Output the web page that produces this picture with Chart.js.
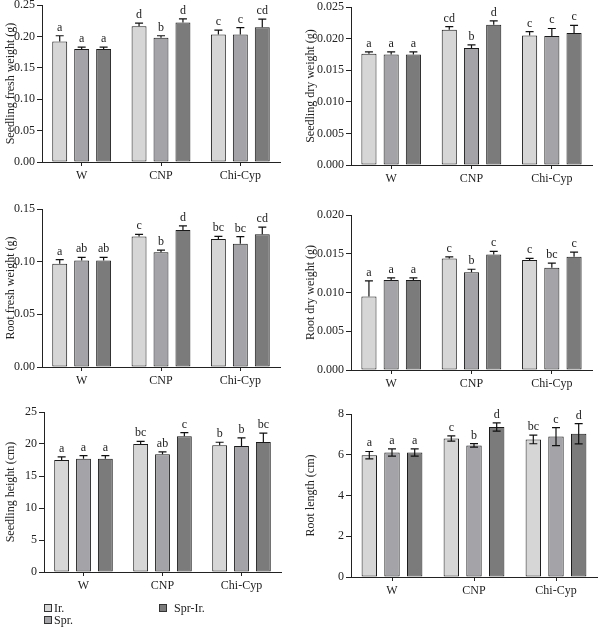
<!DOCTYPE html>
<html>
<head>
<meta charset="utf-8">
<script src="https://cdn.jsdelivr.net/npm/chart.js@4"></script>
<style>
  body { margin: 0; background: #fff; width: 600px; height: 627px; position: relative; overflow: hidden; font-family: "Liberation Serif", serif; }
  canvas { position: absolute; }
  .leg { position: absolute; font-size: 12px; color: #222; line-height: 12px; }
  .sw { position: absolute; width: 6px; height: 6px; border: 1px solid #333; }
</style>
</head>
<body>
<canvas id="c1"></canvas>
<canvas id="c2"></canvas>
<canvas id="c3"></canvas>
<canvas id="c4"></canvas>
<canvas id="c5"></canvas>
<canvas id="c6"></canvas>

<div class="sw" style="left:44px;top:604px;background:#d6d6d6"></div>
<div class="leg" style="left:54px;top:602px">Ir.</div>
<div class="sw" style="left:44px;top:616px;background:#a4a4a8"></div>
<div class="leg" style="left:54px;top:614px">Spr.</div>
<div class="sw" style="left:159px;top:604px;background:#7b7b7b"></div>
<div class="leg" style="left:174px;top:602px">Spr-Ir.</div>

<script>
const groups = ['W', 'CNP', 'Chi-Cyp'];
const treatments = ['Ir.', 'Spr.', 'Spr-Ir.'];
const fills = ['#d6d6d6', '#a4a4a8', '#7b7b7b'];

// rows are Ir., Spr., Spr-Ir. ; columns follow groups
// seedling fresh weight (g)
const sfwMean = [[0.192, 0.216, 0.203], [0.180, 0.198, 0.203], [0.180, 0.222, 0.2145]];
const sfwErr = [[0.009, 0.005, 0.007], [0.003, 0.003, 0.011], [0.003, 0.006, 0.013]];
const sfwLetters = [['a', 'd', 'c'], ['a', 'b', 'c'], ['a', 'd', 'cd']];

// seedling dry weight (g)
const sdwMean = [[0.0176, 0.0214, 0.0205], [0.0175, 0.0185, 0.0204], [0.0175, 0.0222, 0.0209]];
const sdwErr = [[0.0003, 0.0005, 0.0006], [0.0004, 0.0005, 0.0012], [0.0004, 0.0006, 0.0012]];
const sdwLetters = [['a', 'cd', 'c'], ['a', 'b', 'c'], ['a', 'd', 'c']];

// root fresh weight (g)
const rfwMean = [[0.098, 0.124, 0.1215], [0.101, 0.109, 0.117], [0.101, 0.130, 0.126]];
const rfwErr = [[0.004, 0.002, 0.0025], [0.003, 0.002, 0.0067], [0.003, 0.004, 0.0067]];
const rfwLetters = [['a', 'c', 'bc'], ['ab', 'b', 'bc'], ['ab', 'd', 'cd']];

// root dry weight (g)
const rdwMean = [[0.0095, 0.0144, 0.0142], [0.0116, 0.0126, 0.0132], [0.0116, 0.0149, 0.0146]];
const rdwErr = [[0.002, 0.0002, 0.0002], [0.0003, 0.0004, 0.0006], [0.0003, 0.0004, 0.0006]];
const rdwLetters = [['a', 'c', 'c'], ['a', 'b', 'bc'], ['a', 'c', 'c']];

// seedling height (cm)
const shMean = [[17.5, 20.0, 19.8], [17.7, 18.4, 19.7], [17.7, 21.2, 20.3]];
const shErr = [[0.5, 0.42, 0.47], [0.47, 0.37, 1.25], [0.47, 0.58, 1.4]];
const shLetters = [['a', 'bc', 'b'], ['a', 'ab', 'b'], ['a', 'c', 'bc']];

// root length (cm)
const rlMean = [[5.98, 6.80, 6.75], [6.11, 6.46, 6.89], [6.11, 7.36, 7.03]];
const rlErr = [[0.18, 0.13, 0.21], [0.18, 0.09, 0.44], [0.18, 0.2, 0.5]];
const rlLetters = [['a', 'c', 'bc'], ['a', 'b', 'c'], ['a', 'd', 'd']];

const ink = '#222';
const fam = '"Liberation Serif", serif';

// error bars + significance letters
const errPlugin = {
  id: 'errbars',
  afterDatasetsDraw(chart, args, opts) {
    const ctx = chart.ctx, y = chart.scales.y;
    chart.data.datasets.forEach((ds, i) => {
      chart.getDatasetMeta(i).data.forEach((bar, j) => {
        const m = ds.data[j], e = ds.err[j];
        const top = y.getPixelForValue(m + e);
        const bot = opts.both ? y.getPixelForValue(m - e) : bar.y;
        ctx.save();
        ctx.strokeStyle = '#111';
        ctx.lineWidth = 1.2;
        ctx.beginPath();
        ctx.moveTo(bar.x, bot); ctx.lineTo(bar.x, top);
        ctx.moveTo(bar.x - 4, top); ctx.lineTo(bar.x + 4, top);
        if (opts.both) { ctx.moveTo(bar.x - 4, bot); ctx.lineTo(bar.x + 4, bot); }
        ctx.stroke();
        ctx.fillStyle = ink;
        ctx.font = '12px ' + fam;
        ctx.textAlign = 'center';
        ctx.textBaseline = 'alphabetic';
        ctx.fillText(ds.letters[j], bar.x, top - 5);
        ctx.restore();
      });
    });
  }
};

function panel(id, area, title, means, errs, letters, max, step, dec, both) {
  const px = area.left < 300 ? 0 : 300;
  const top = area.top - 10;
  const cv = document.getElementById(id);
  cv.style.left = px + 'px';
  cv.style.top = top + 'px';
  cv.width = 300;
  cv.height = area.bottom - top + 32;
  new Chart(cv, {
    type: 'bar',
    data: {
      labels: groups,
      datasets: treatments.map((t, i) => ({
        label: t, data: means[i], err: errs[i], letters: letters[i],
        backgroundColor: fills[i], borderColor: '#1a1a1a', borderWidth: 1, borderSkipped: false,
        categoryPercentage: 0.83, barPercentage: 0.68
      }))
    },
    options: {
      responsive: false,
      animation: false,
      layout: { padding: { top: 10, right: 300 - (area.right - px), left: 0, bottom: 0 } },
      plugins: { legend: { display: false }, tooltip: { enabled: false }, errbars: { both: both } },
      scales: {
        x: {
          grid: { drawOnChartArea: false, offset: false, tickLength: 4, color: ink },
          border: { color: ink, width: 1 },
          ticks: { color: ink, font: { family: fam, size: 12 }, padding: 3 },
          afterFit(s) { s.height = 32; }
        },
        y: {
          min: 0, max: max,
          ticks: { stepSize: step, color: ink, font: { family: fam, size: 12 }, padding: 2,
                   callback: v => v.toFixed(dec) },
          grid: { drawOnChartArea: false, tickLength: 5, color: ink },
          border: { color: ink, width: 1 },
          title: { display: true, text: title, color: ink, font: { family: fam, size: 12 }, padding: { top: 4, bottom: 0 } },
          afterFit(s) { s.width = area.left - px; }
        }
      }
    },
    plugins: [errPlugin]
  });
}

panel('c1', { left: 42, top: 5, right: 280, bottom: 162 }, 'Seedling fresh weight (g)', sfwMean, sfwErr, sfwLetters, 0.25, 0.05, 2, false);
panel('c2', { left: 351, top: 7, right: 592, bottom: 165 }, 'Seedling dry weight (g)', sdwMean, sdwErr, sdwLetters, 0.025, 0.005, 3, false);
panel('c3', { left: 42, top: 209, right: 280, bottom: 367 }, 'Root fresh weight (g)', rfwMean, rfwErr, rfwLetters, 0.15, 0.05, 2, false);
panel('c4', { left: 351, top: 215, right: 592, bottom: 370 }, 'Root dry weight (g)', rdwMean, rdwErr, rdwLetters, 0.02, 0.005, 3, false);
panel('c5', { left: 44, top: 412, right: 281, bottom: 572 }, 'Seedling height (cm)', shMean, shErr, shLetters, 25, 5, 0, false);
panel('c6', { left: 351, top: 414, right: 597, bottom: 577 }, 'Root length (cm)', rlMean, rlErr, rlLetters, 8, 2, 0, true);
</script>
</body>
</html>
